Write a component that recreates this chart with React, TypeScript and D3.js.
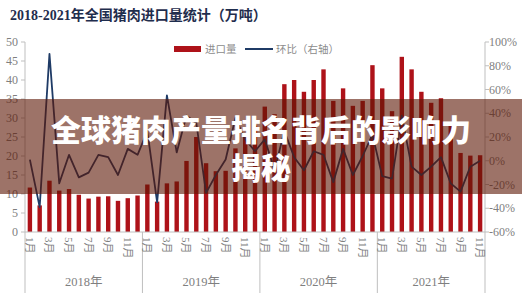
import React from "react";
import * as d3 from "d3";

const years = ["2018年", "2019年", "2020年", "2021年"];
const monthsPerYear = [12, 12, 12, 11];
const monthTickLabels = ["1月", "3月", "5月", "7月", "9月", "11月"];

// 进口量（万吨）
const imports2018 = [11.7, 7.0, 13.5, 10.9, 11.3, 9.8, 8.8, 9.3, 9.4, 8.2, 8.9, 9.6];
const imports2019 = [12.5, 8.0, 12.8, 13.3, 18.7, 25.0, 18.1, 16.0, 16.1, 22.0, 26.0, 28.0];
const imports2020 = [33.0, 31.0, 38.9, 40.0, 36.9, 40.0, 42.8, 34.5, 37.8, 33.2, 34.5, 43.9];
const imports2021 = [37.8, 31.8, 46.1, 42.8, 36.9, 34.0, 35.2, 28.5, 20.8, 20.1, 20.2];

// 环比（%，右轴）
const mom2018 = [1, -39, 90, -19, 5, -14, -10, 5, 3, -12, 10, 5];
const mom2019 = [25, -35, 55, 7, 38, 32, -27, -12, 1, 36, 18, 8];
const mom2020 = [18, -8, 25, 3, -8, 8, 5, -18, 10, -12, 4, 22];
const mom2021 = [-13, -15, 38, -5, -12, -5, 3, -19, -26, -5, 0];

const leftTicks = [0, 5, 10, 15, 20, 25, 30, 35, 40, 45, 50];
const rightTicks = [-60, -40, -20, 0, 20, 40, 60, 80, 100];

const title = "2018-2021年全国猪肉进口量统计（万吨）";
const legendBar = "进口量";
const legendLine = "环比（右轴）";
const overlayLine1 = "全球猪肉产量排名背后的影响力";
const overlayLine2 = "揭秘";

const W = 522;
const H = 295;

export default function App() {
  const imports = [...imports2018, ...imports2019, ...imports2020, ...imports2021];
  const mom = [...mom2018, ...mom2019, ...mom2020, ...mom2021];
  const idx = d3.range(imports.length);

  const x = d3.scaleBand<number>().domain(idx).range([25, 485]).padding(0);
  const bw = x.bandwidth();
  const barW = 4.4;
  const yL = d3.scaleLinear().domain([0, 50]).range([232, 42]);
  const yR = d3.scaleLinear().domain([-60, 100]).range([232, 42]);

  const cx = (i: number) => (x(i) as number) + bw / 2;
  const linePath = d3
    .line<number>()
    .x((_, i) => cx(i))
    .y((d) => yR(d))(mom) as string;

  const starts: number[] = [];
  let acc = 0;
  monthsPerYear.forEach((n) => {
    starts.push(acc);
    acc += n;
  });

  const axisColor = "#BFBFBF";
  const labelColor = "#7F7F7F";
  const serif = "'Liberation Serif', 'DejaVu Serif', 'Noto Sans CJK SC', serif";

  const monthLabels: { i: number; t: string }[] = [];
  starts.forEach((s, yi) => {
    for (let m = 0; m < monthsPerYear[yi]; m += 2) {
      monthLabels.push({ i: s + m, t: monthTickLabels[m / 2] });
    }
  });

  const separators = [...starts.map((s) => x(s) as number), 485];

  return (
    <svg
      width={W}
      height={H}
      style={{ position: "absolute", left: 0, top: 0, background: "#fff" }}
    >
      <rect x={0} y={0} width={W} height={H} fill="#ffffff" />
      <text x={10} y={20} fontFamily={serif} fontWeight="bold" fontSize={14} fill="#1F2D4D">
        {title}
      </text>

      {/* legend */}
      <rect x={174} y={46} width={27} height={6} fill="#AE1219" />
      <text x={205} y={52.5} fontSize={10.5} fill="#8C8C8C" fontFamily={serif}>
        {legendBar}
      </text>
      <line x1={245} x2={273} y1={49} y2={49} stroke="#1F3B66" strokeWidth={2} />
      <text x={276} y={52.5} fontSize={10.5} fill="#8C8C8C" fontFamily={serif}>
        {legendLine}
      </text>

      {/* left axis */}
      <line x1={25} x2={25} y1={42} y2={232} stroke={axisColor} />
      {leftTicks.map((t) => (
        <g key={"l" + t}>
          <line x1={21} x2={25} y1={yL(t)} y2={yL(t)} stroke={axisColor} />
          <text
            x={18}
            y={yL(t)}
            textAnchor="end"
            dominantBaseline="central"
            fontSize={12}
            fill={labelColor}
            fontFamily={serif}
          >
            {t}
          </text>
        </g>
      ))}

      {/* right axis */}
      <line x1={485} x2={485} y1={42} y2={232} stroke={axisColor} />
      {rightTicks.map((t) => (
        <g key={"r" + t}>
          <line x1={485} x2={489} y1={yR(t)} y2={yR(t)} stroke={axisColor} />
          <text
            x={489}
            y={yR(t)}
            dominantBaseline="central"
            fontSize={12}
            fill={labelColor}
            fontFamily={serif}
          >
            {t + "%"}
          </text>
        </g>
      ))}

      {/* bars */}
      {imports.map((v, i) => (
        <rect
          key={"b" + i}
          x={cx(i) - barW / 2}
          y={yL(v)}
          width={barW}
          height={yL(0) - yL(v)}
          fill="#AE1219"
        />
      ))}

      {/* line */}
      <path d={linePath} fill="none" stroke="#1F3B66" strokeWidth={1.8} strokeLinejoin="round" />

      {/* x axis */}
      <line x1={25} x2={485} y1={232} y2={232} stroke={axisColor} />
      {separators.map((sx, k) => (
        <line key={"s" + k} x1={sx} x2={sx} y1={232} y2={293} stroke={axisColor} />
      ))}
      {monthLabels.map((m) => (
        <text
          key={"m" + m.i}
          transform={`translate(${cx(m.i)},${237}) rotate(90)`}
          dominantBaseline="central"
          fontSize={11}
          fill={labelColor}
          fontFamily={serif}
        >
          {m.t}
        </text>
      ))}
      {years.map((yl, k) => {
        const a = separators[k];
        const b = separators[k + 1];
        return (
          <text
            key={"y" + k}
            x={(a + b) / 2}
            y={282}
            textAnchor="middle"
            dominantBaseline="central"
            fontSize={12.5}
            fill={labelColor}
            fontFamily={serif}
          >
            {yl}
          </text>
        );
      })}

      {/* overlay band */}
      <rect x={0} y={99} width={W} height={95} fill="rgb(92,22,4)" fillOpacity={0.6} />
      <text
        x={261}
        y={141}
        textAnchor="middle"
        fontSize={30}
        fontWeight={900}
        fill="#ffffff"
        fontFamily="'Noto Sans CJK SC', sans-serif"
      >
        {overlayLine1}
      </text>
      <text
        x={261}
        y={179}
        textAnchor="middle"
        fontSize={30}
        fontWeight={900}
        fill="#ffffff"
        fontFamily="'Noto Sans CJK SC', sans-serif"
      >
        {overlayLine2}
      </text>
    </svg>
  );
}
